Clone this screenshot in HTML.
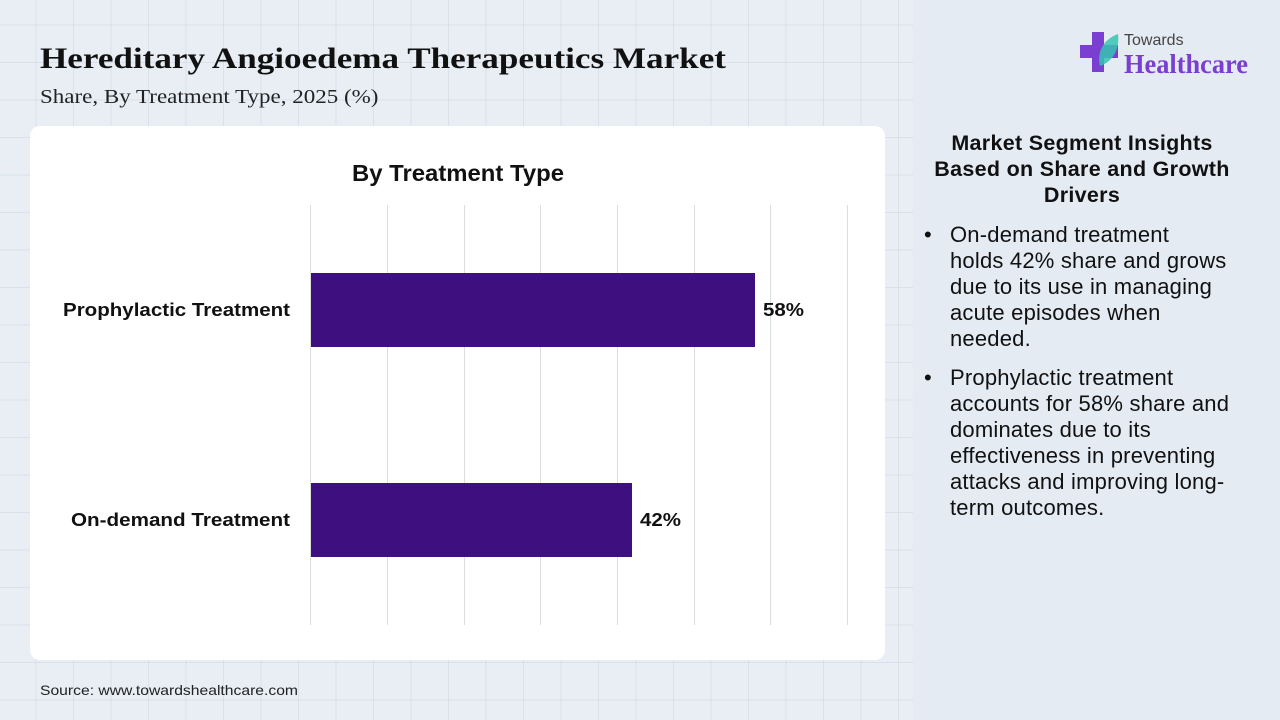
<!DOCTYPE html>
<html><head><meta charset="utf-8"><style>
*{margin:0;padding:0;box-sizing:border-box}
body{width:1280px;height:720px;position:relative;overflow:hidden;font-family:"Liberation Sans",sans-serif;
background-color:#e8eef4;
background-image:linear-gradient(to right,rgba(190,200,215,.35) 1px,transparent 1px),linear-gradient(to bottom,rgba(190,200,215,.35) 1px,transparent 1px);
background-size:37.5px 37.5px;background-position:-2px -13px}
.right{position:absolute;left:913px;top:0;width:367px;height:720px;background:#e5ebf3}
.title{position:absolute;left:40px;top:42px;font-family:"Liberation Serif",serif;font-weight:bold;font-size:30px;color:#111;transform:scaleX(1.17);transform-origin:0 0;white-space:nowrap}
.sub{position:absolute;left:40px;top:86px;font-family:"Liberation Serif",serif;font-size:20px;color:#222;transform:scaleX(1.15);transform-origin:0 0;white-space:nowrap}
.card{position:absolute;left:30px;top:126px;width:855px;height:534px;background:#fff;border-radius:10px}
.h{position:absolute;left:912px;top:130px;width:340px;text-align:center;font-weight:bold;font-size:21.5px;line-height:26px;color:#111;white-space:nowrap;letter-spacing:.3px}
ul{position:absolute;left:922px;top:222px;width:350px;list-style:none;font-size:22px;line-height:26px;color:#111;white-space:nowrap;letter-spacing:.2px}
li{position:relative;padding-left:28px;margin-bottom:13px}
li:before{content:"•";position:absolute;left:2px}
</style></head><body>
<div class="right"></div>
<div class="title">Hereditary Angioedema Therapeutics Market</div>
<div class="sub">Share, By Treatment Type, 2025 (%)</div>
<div class="card"></div>
<svg style="position:absolute;left:0;top:0" width="913" height="720">
<text x="352" y="181" textLength="212" lengthAdjust="spacingAndGlyphs" font-family="Liberation Sans" font-weight="bold" font-size="23" fill="#111">By Treatment Type</text>
<g stroke="#ddd" stroke-width="1">
<line x1="310.5" y1="205" x2="310.5" y2="625"/><line x1="387.5" y1="205" x2="387.5" y2="625"/>
<line x1="464.5" y1="205" x2="464.5" y2="625"/><line x1="540.5" y1="205" x2="540.5" y2="625"/>
<line x1="617.5" y1="205" x2="617.5" y2="625"/><line x1="694.5" y1="205" x2="694.5" y2="625"/>
<line x1="770.5" y1="205" x2="770.5" y2="625"/><line x1="847.5" y1="205" x2="847.5" y2="625"/>
</g>
<rect x="311" y="273" width="444" height="74" fill="#3e0f7e"/>
<rect x="311" y="483" width="321" height="74" fill="#3e0f7e"/>
<g font-family="Liberation Sans" font-weight="bold" font-size="18" fill="#111">
<text x="63" y="316" textLength="227" lengthAdjust="spacingAndGlyphs">Prophylactic Treatment</text>
<text x="71" y="526" textLength="219" lengthAdjust="spacingAndGlyphs">On-demand Treatment</text>
<text x="763" y="316" textLength="41" lengthAdjust="spacingAndGlyphs">58%</text>
<text x="640" y="526" textLength="41" lengthAdjust="spacingAndGlyphs">42%</text>
</g>
<text x="40" y="695" textLength="258" lengthAdjust="spacingAndGlyphs" font-family="Liberation Sans" font-size="14" fill="#222">Source: www.towardshealthcare.com</text>
</svg>
<svg style="position:absolute;left:1078px;top:28px" width="180" height="50">
<rect x="14" y="4" width="12" height="40" fill="#7a3fd0"/>
<rect x="2" y="17" width="38" height="13" fill="#7a3fd0"/>
<path d="M22 38 C18 22 28 10 40 6 C42 22 34 34 22 38Z" fill="#35c4b0" opacity=".85"/>
<text x="46" y="17" font-family="Liberation Sans" font-size="16" fill="#444">Towards</text>
<text x="46" y="45" textLength="124" lengthAdjust="spacingAndGlyphs" font-family="Liberation Serif" font-weight="bold" font-size="27" fill="#7a3fd0">Healthcare</text>
</svg>
<div class="h">Market Segment Insights<br>Based on Share and Growth<br>Drivers</div>
<ul>
<li>On-demand treatment<br>holds 42% share and grows<br>due to its use in managing<br>acute episodes when<br>needed.</li>
<li>Prophylactic treatment<br>accounts for 58% share and<br>dominates due to its<br>effectiveness in preventing<br>attacks and improving long-<br>term outcomes.</li>
</ul>
</body></html>
